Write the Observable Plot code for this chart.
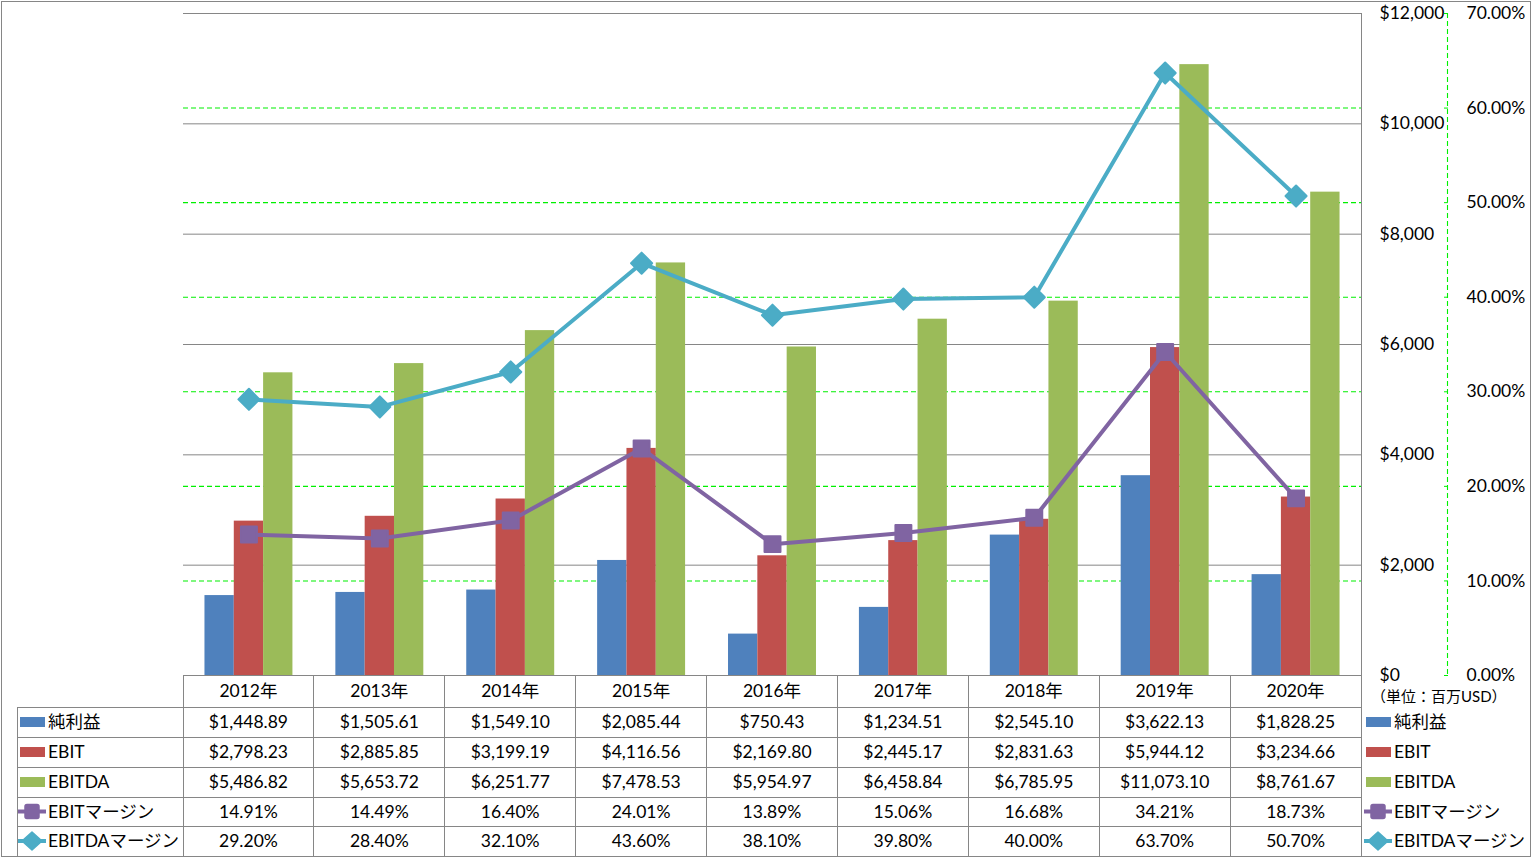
<!DOCTYPE html>
<html><head><meta charset="utf-8">
<script src="https://cdn.jsdelivr.net/npm/d3@7"></script>
<script src="https://cdn.jsdelivr.net/npm/@observablehq/plot@0.6"></script>
<style>
html,body{margin:0;padding:0;background:#fff;}
#chart{position:relative;width:1532px;height:858px;overflow:hidden;}
</style></head><body><div id="chart"></div>
<script>
const years = ["2012年","2013年","2014年","2015年","2016年","2017年","2018年","2019年","2020年"];
const netIncome = [1448.89, 1505.61, 1549.10, 2085.44, 750.43, 1234.51, 2545.10, 3622.13, 1828.25];
const ebit = [2798.23, 2885.85, 3199.19, 4116.56, 2169.80, 2445.17, 2831.63, 5944.12, 3234.66];
const ebitda = [5486.82, 5653.72, 6251.77, 7478.53, 5954.97, 6458.84, 6785.95, 11073.10, 8761.67];
const ebitMargin = [14.91, 14.49, 16.40, 24.01, 13.89, 15.06, 16.68, 34.21, 18.73];
const ebitdaMargin = [29.20, 28.40, 32.10, 43.60, 38.10, 39.80, 40.00, 63.70, 50.70];
const moneyTicks = [0, 2000, 4000, 6000, 8000, 10000, 12000];
const pctTicks = [0, 10, 20, 30, 40, 50, 60, 70];
const seriesNames = ["純利益", "EBIT", "EBITDA", "EBITマージン", "EBITDAマージン"];
const unitLabel = "（単位：百万USD）";

const colors = ["#4F81BD", "#C0504D", "#9BBB59", "#8064A2", "#4BACC6"];
const GRAY = "#868686", GREEN = "#00f000";
const FONT = "Lato, 'Noto Sans CJK JP', sans-serif";
const FS = 17.5;
const PCT = 12000 / 70;           // secondary axis (percent) -> primary units
const BW = 0.224;                 // bar width as a fraction of a year step
const cx = (d, i) => i + 0.5;

const barSeries = [netIncome, ebit, ebitda];
const barMarks = barSeries.map((arr, k) => Plot.rectY(arr, {
  x1: (d, i) => i + 0.5 + (k - 1.5) * BW,
  x2: (d, i) => i + 0.5 + (k - 0.5) * BW,
  y1: 0, y2: d => d, fill: colors[k]
}));

const chart = Plot.plot({
  width: 1532, height: 858,
  marginLeft: 183, marginRight: 171, marginTop: 13, marginBottom: 183,
  style: {fontFamily: FONT, fontSize: FS + "px", background: "#fff", color: "#000", overflow: "visible"},
  x: {type: "linear", domain: [0, 9], axis: null},
  y: {domain: [0, 12000]},
  marks: [
    Plot.ruleY(moneyTicks, {stroke: GRAY, strokeWidth: 1}),
    Plot.ruleY(pctTicks.slice(1, -1).map(p => p * PCT), {stroke: GREEN, strokeWidth: 1.1, strokeDasharray: "5,3"}),
    ...barMarks,
    Plot.line(ebitMargin, {x: cx, y: d => d * PCT, stroke: colors[3], strokeWidth: 4}),
    Plot.dot(ebitMargin, {x: cx, y: d => d * PCT, symbol: "square", r: 9, fill: colors[3], stroke: colors[3], strokeWidth: 2, strokeLinejoin: "round"}),
    Plot.line(ebitdaMargin, {x: cx, y: d => d * PCT, stroke: colors[4], strokeWidth: 4}),
    Plot.dot(ebitdaMargin, {x: cx, y: d => d * PCT, symbol: "diamond2", r: 9.5, fill: colors[4], stroke: colors[4], strokeWidth: 2, strokeLinejoin: "round"}),
    Plot.ruleX([9], {dx: 86, stroke: GREEN, strokeWidth: 1.1, strokeDasharray: "5,3"}),
    Plot.axisY(moneyTicks, {anchor: "right", tickSize: 0, tickPadding: 18, fontSize: FS,
      tickFormat: d => "$" + d3.format(",")(d)}),
    Plot.axisY(pctTicks.map(p => p * PCT), {anchor: "right", dx: 82, tickSize: 4, tickPadding: 19, fontSize: FS,
      stroke: GREEN, tickFormat: v => (v / PCT).toFixed(2) + "%"})
  ]
});
document.getElementById("chart").appendChild(chart);

// ---- data table + legends (positions from the Plot x scale) ----
const xs = chart.scale("x");
const X = v => xs.apply(v);
const svg = d3.select(chart);
const g = svg.append("g").attr("font-family", FONT).attr("font-size", FS).attr("fill", "#000").attr("text-anchor", "start");
const rowY = [675, 707, 737, 767, 797, 826, 856];
const mid = r => (rowY[r] + rowY[r + 1]) / 2;
const xR = X(9);
const line = (x1, y1, x2, y2) => g.append("line").attr("x1", x1).attr("y1", y1).attr("x2", x2).attr("y2", y2)
  .attr("stroke", GRAY).attr("stroke-width", 1).attr("shape-rendering", "crispEdges");

// outer frame
g.append("rect").attr("x", 1.5).attr("y", 1.5).attr("width", 1529).attr("height", 855)
  .attr("fill", "none").attr("stroke", GRAY).attr("stroke-width", 1).attr("shape-rendering", "crispEdges");
// horizontal lines of table
for (let r = 1; r < rowY.length - 1; r++) line(17, rowY[r], xR, rowY[r]);
// vertical lines
for (let k = 0; k <= 9; k++) line(X(k), 675, X(k), 857);
line(17, rowY[1], 17, 857);
line(xR, 13, xR, 857);

// header
years.forEach((y, i) => g.append("text").attr("x", X(i + 0.5)).attr("y", mid(0)).attr("dy", "0.35em")
  .attr("text-anchor", "middle").text(y));
const fmtMoney = v => "$" + d3.format(",.2f")(v);
const fmtPct = v => v.toFixed(2) + "%";
const rows = [[netIncome, fmtMoney], [ebit, fmtMoney], [ebitda, fmtMoney], [ebitMargin, fmtPct], [ebitdaMargin, fmtPct]];
rows.forEach(([arr, f], r) => arr.forEach((v, i) => g.append("text").attr("x", X(i + 0.5)).attr("y", mid(r + 1))
  .attr("dy", "0.35em").attr("text-anchor", "middle").text(f(v))));

function legendKey(x0, r, k) {
  const y = mid(r + 1);
  if (k < 3) {
    g.append("rect").attr("x", x0 + 2).attr("y", y - 5).attr("width", 25).attr("height", 10).attr("fill", colors[k]);
  } else {
    g.append("line").attr("x1", x0).attr("x2", x0 + 28).attr("y1", y).attr("y2", y)
      .attr("stroke", colors[k]).attr("stroke-width", 4);
    const c = x0 + 14;
    if (k === 3) {
      g.append("rect").attr("x", c - 7).attr("y", y - 7).attr("width", 14).attr("height", 14).attr("rx", 2)
        .attr("fill", colors[k]).attr("stroke", colors[k]).attr("stroke-width", 1.5);
    } else {
      g.append("path").attr("d", `M${c},${y - 9}L${c + 10},${y}L${c},${y + 9}L${c - 10},${y}Z`)
        .attr("fill", colors[k]).attr("stroke", colors[k]).attr("stroke-width", 1.5).attr("stroke-linejoin", "round");
    }
  }
}
seriesNames.forEach((name, k) => {
  legendKey(18, k, k);
  g.append("text").attr("x", 48).attr("y", mid(k + 1)).attr("dy", "0.35em").attr("text-anchor", "start").text(name);
  legendKey(1364, k, k);
  g.append("text").attr("x", 1394).attr("y", mid(k + 1)).attr("dy", "0.35em").attr("text-anchor", "start").text(name);
});
g.append("text").attr("x", 1371).attr("y", 697).attr("dy", "0.35em").attr("font-size", 15)
  .attr("text-anchor", "start").text(unitLabel);
</script>
</body></html>
